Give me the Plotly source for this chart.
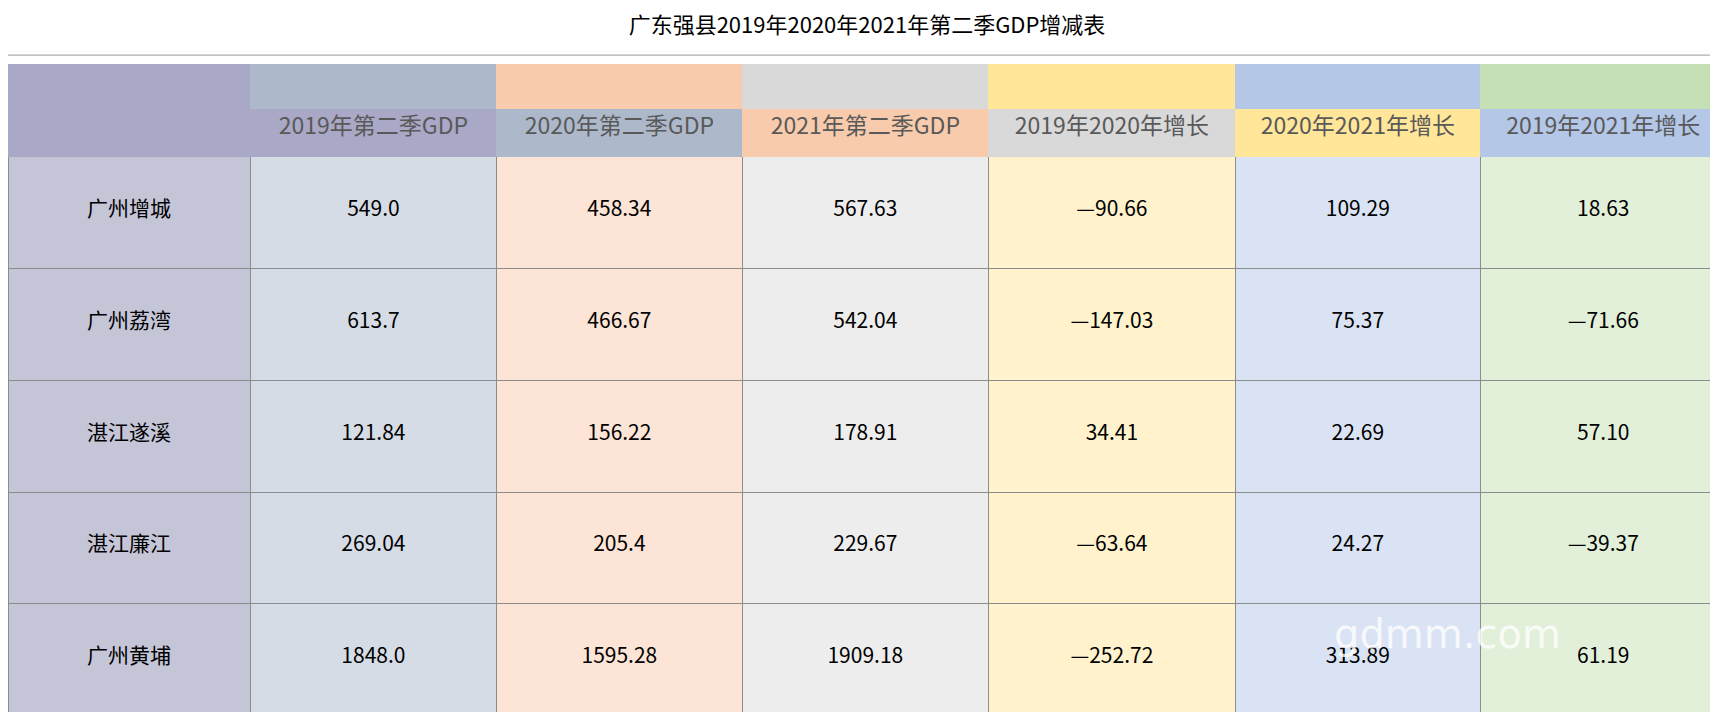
import plotly.graph_objects as go

title = "广东强县2019年2020年2021年第二季GDP增减表"
headers = ["", "2019年第二季GDP", "2020年第二季GDP", "2021年第二季GDP",
           "2019年2020年增长", "2020年2021年增长", "2019年2021年增长"]
counties = ["广州增城", "广州荔湾", "湛江遂溪", "湛江廉江", "广州黄埔"]
gdp_2019 = ["549.0", "613.7", "121.84", "269.04", "1848.0"]
gdp_2020 = ["458.34", "466.67", "156.22", "205.4", "1595.28"]
gdp_2021 = ["567.63", "542.04", "178.91", "229.67", "1909.18"]
grow_19_20 = ["—90.66", "—147.03", "34.41", "—63.64", "—252.72"]
grow_20_21 = ["109.29", "75.37", "22.69", "24.27", "313.89"]
grow_19_21 = ["18.63", "—71.66", "57.10", "—39.37", "61.19"]

top_colors = ["#a9a8c6", "#adb9ca", "#f8cbad", "#d9d9d9", "#ffe699", "#b4c7e7", "#c5e0b4"]
label_colors = ["#a9a8c6"] + top_colors[:-1]
body_colors = ["#c5c5d8", "#d6dce5", "#fce4d6", "#ededed", "#fff2cc", "#dae3f3", "#e2f0d9"]
col_widths = [221, 225, 224, 225, 225, 224, 224]

H = 712
s = H / 650
line = "#8c8c8c"
font = "Microsoft YaHei, Noto Sans CJK SC, sans-serif"

# leading blank line pushes the value down towards the middle of the tall rows
columns = [counties, gdp_2019, gdp_2020, gdp_2021, grow_19_20, grow_20_21, grow_19_21]
body = go.Table(
    domain=dict(x=[0, 1], y=[0, 1 - (136 * s - 1) / H]),
    columnwidth=col_widths,
    header=dict(values=[""] * 7, height=1, fill_color="white",
                line_color="rgba(0,0,0,0)"),
    cells=dict(values=[["\u00a0<br>" + v for v in col] for col in columns],
               height=102 * s, fill_color=body_colors, line_color=line,
               align="center", font=dict(family=font, size=21, color="black")),
)

head = go.Table(
    domain=dict(x=[0, 1], y=[1 - 136 * s / H, 1 - 52 * s / H]),
    columnwidth=col_widths,
    header=dict(values=[""] * 7, height=40 * s, fill_color=top_colors,
                line_color=top_colors),
    cells=dict(values=[[h] for h in headers], height=44 * s,
               fill_color=[[c] for c in label_colors], line_color=label_colors,
               align="center", font=dict(family=font, size=23, color="#595959")),
)

fig = go.Figure([body, head])
fig.update_layout(
    width=1718, height=H, margin=dict(l=0, r=0, t=0, b=0),
    paper_bgcolor="white",
    title=dict(text=title, x=0.5, y=1 - 16 * s / H, xanchor="center", yanchor="middle",
               font=dict(family=font, size=22, color="black")),
    shapes=[
        dict(type="line", xref="paper", yref="paper", x0=0, x1=1,
             y0=1 - 43 * s / H, y1=1 - 43 * s / H, line=dict(color="#999999", width=1)),
    ],
    annotations=[dict(text="gdmm.com", xref="paper", yref="paper", x=0.905, y=0.085,
                      showarrow=False, font=dict(family="DejaVu Sans", size=40,
                                                 color="rgba(255,255,255,0.8)"))],
)
fig.write_html("out.html")
